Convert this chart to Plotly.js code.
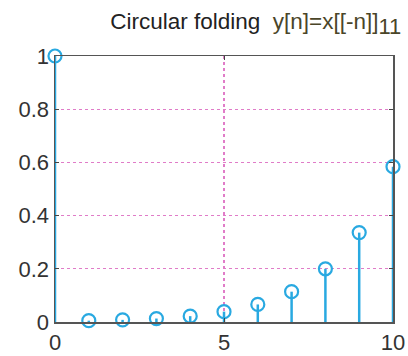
<!DOCTYPE html>
<html>
<head>
<meta charset="utf-8">
<script src="https://cdn.plot.ly/plotly-3.0.1.min.js"></script>
<style>html,body{margin:0;padding:0;background:#fff;}#chart{width:408px;height:356px;}</style>
</head>
<body>
<div id="chart"></div>
<script>
var n = [0, 1, 2, 3, 4, 5, 6, 7, 8, 9, 10];
var y = [1, 0.005, 0.008, 0.013, 0.022, 0.039, 0.066, 0.114, 0.2, 0.336, 0.584];
var xTicks = [0, 5, 10];
var yTicks = [0, 0.2, 0.4, 0.6, 0.8, 1];
var yTickLabels = ['0', '0.2', '0.4', '0.6', '0.8', '1'];

var stemX = [], stemY = [];
for (var i = 0; i < n.length; i++) {
  stemX.push(n[i], n[i], null);
  stemY.push(0, y[i], null);
}
var blue = '#29a9e1';
var data = [
  {x: stemX, y: stemY, mode: 'lines', line: {color: blue, width: 2.5}, hoverinfo: 'skip', cliponaxis: false},
  {x: n, y: y, mode: 'markers', cliponaxis: false,
   marker: {symbol: 'circle-open', size: 13, color: blue, line: {color: blue, width: 2.2}}}
];
var axisCommon = {
  showline: true, mirror: 'ticks', linecolor: '#555', linewidth: 1.5,
  ticks: 'inside', ticklen: 4, tickcolor: '#444', tickwidth: 1,
  showgrid: true, gridcolor: '#e07cc8', griddash: 'dot', gridwidth: 1.3,
  zeroline: false, tickfont: {family: 'Liberation Sans, Arial, sans-serif', size: 22, color: '#333'}
};
var layout = {
  width: 408, height: 356,
  margin: {l: 55, r: 15, t: 56, b: 34},
  paper_bgcolor: '#fff', plot_bgcolor: '#fff',
  showlegend: false,
  title: {text: 'Circular folding  <span style="color:#4a4528">y[n]=x[[-n]]<sub><span style="font-size:22px">11</span></sub></span>',
          font: {family: 'Liberation Sans, Arial, sans-serif', size: 22.5, color: '#222'},
          x: 0.627, xanchor: 'center', y: 0.94, yanchor: 'middle'},
  xaxis: Object.assign({}, axisCommon, {range: [0, 10], tickvals: xTicks, ticktext: xTicks.map(String)}),
  yaxis: Object.assign({}, axisCommon, {range: [0, 1], tickvals: yTicks, ticktext: yTickLabels})
};
Plotly.newPlot('chart', data, layout, {displayModeBar: false, staticPlot: true});
</script>
</body>
</html>
